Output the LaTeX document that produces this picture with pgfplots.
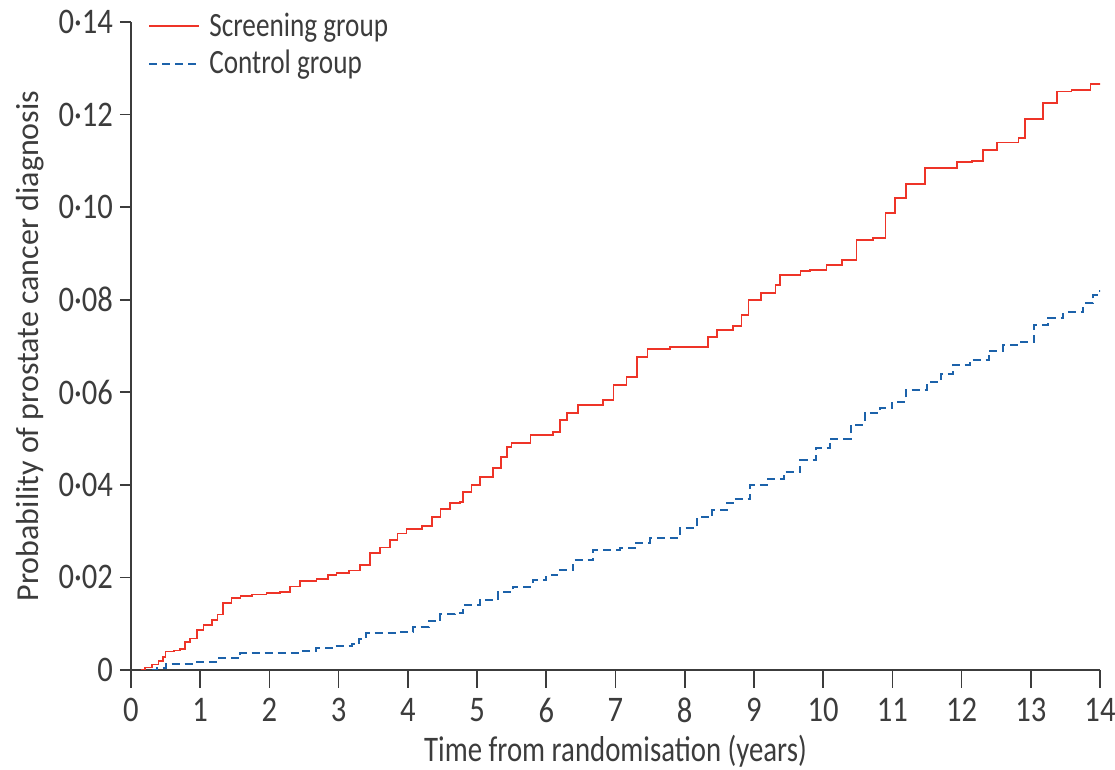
\documentclass[border=0pt]{standalone}
\usepackage{fontspec}
\setmainfont{Carlito}
\newfontfamily\narrowfont{Carlito}[FakeStretch=0.8]
\newfontfamily\tickfont{Carlito}[FakeStretch=0.85]
\usepackage{pgfplots}
\pgfplotsset{compat=1.18}
\definecolor{scrred}{RGB}{238,52,40}
\definecolor{ctlblue}{RGB}{28,98,170}
\definecolor{axgray}{RGB}{60,60,60}
\begin{document}
\begin{tikzpicture}[font=\fontsize{16}{19}\selectfont]
\useasboundingbox (-65.5pt,-50pt) rectangle (492pt,335pt);
\begin{axis}[
  scale only axis,
  width=484.5pt, height=324pt,
  at={(0,0)}, anchor=south west,
  xmin=0, xmax=14, ymin=0, ymax=0.14,
  axis lines=left,
  axis line style={-, axgray, line width=0.8pt},
  tick style={axgray, line width=0.8pt},
  tick align=outside,
  major tick length=5.5pt,
  xtick style={/pgfplots/major tick length=9pt},
  xtick={0,1,...,14},
  ytick={0,0.02,0.04,0.06,0.08,0.10,0.12,0.14},
  yticklabels={0,0·02,0·04,0·06,0·08,0·10,0·12,0·14},
  /pgf/number format/assume math mode=true,
  tick label style={text=axgray, font=\tickfont\fontsize{18}{20}\selectfont},
  xticklabel style={yshift=-5pt},
  xlabel={Time from randomisation (years)},
  ylabel={Probability of prostate cancer diagnosis},
  xlabel style={text=axgray, font=\narrowfont\fontsize{18}{20}\selectfont, at={(axis description cs:0.5,-0.126)}, anchor=center},
  ylabel style={text=axgray, font=\fontsize{16}{19}\selectfont, at={(axis description cs:-0.1042,0.5)}, anchor=center, rotate=0},
  legend style={draw=none, fill=none, at={(axis description cs:0.0113,1.027)}, anchor=north west,
    font=\narrowfont\fontsize{17}{20}\selectfont, text=axgray, row sep=1.5pt},
  legend cell align=left,
  legend image code/.code={\draw[#1] (0pt,0pt) -- (25pt,0pt); \path (27.5pt,0pt);},
]
\addplot[const plot, scrred, line width=0.8pt] coordinates {
(0.15,0) (0.2,0.0005) (0.3,0.0012) (0.4,0.002) (0.46,0.0028) (0.5,0.004) (0.62,0.0042) (0.71,0.0045)
(0.78,0.006) (0.85,0.0068) (0.95,0.0086) (1.05,0.0097) (1.17,0.0108) (1.25,0.012) (1.33,0.0145)
(1.45,0.0155) (1.58,0.016) (1.75,0.0163) (1.96,0.0166) (2.15,0.0169) (2.3,0.018) (2.44,0.0192)
(2.68,0.0197) (2.85,0.0205) (2.97,0.021) (3.15,0.0215) (3.31,0.0227) (3.45,0.0253) (3.6,0.0265)
(3.74,0.0281) (3.85,0.0295) (3.98,0.0305) (4.2,0.0311) (4.35,0.033) (4.47,0.0348) (4.61,0.0361)
(4.75,0.0363) (4.8,0.0384) (4.92,0.040) (5.04,0.0417) (5.23,0.0436) (5.35,0.046) (5.43,0.0482)
(5.5,0.049) (5.77,0.0508) (6.1,0.0514) (6.2,0.054) (6.3,0.0555) (6.46,0.0572) (6.68,0.0572)
(6.82,0.0583) (6.97,0.0616) (7.16,0.0633) (7.31,0.0676) (7.46,0.0693) (7.79,0.0698) (8.19,0.0698)
(8.34,0.072) (8.47,0.0734) (8.7,0.0743) (8.82,0.0767) (8.92,0.0799) (9.1,0.0815) (9.31,0.0832)
(9.38,0.0853) (9.67,0.0862) (9.81,0.0864) (10.05,0.0875) (10.27,0.0886) (10.48,0.0929) (10.72,0.0933)
(10.9,0.0987) (11.04,0.102) (11.2,0.105) (11.47,0.1084) (11.93,0.1097) (12.15,0.110) (12.31,0.1123)
(12.51,0.114) (12.82,0.1149) (12.92,0.119) (13.18,0.1225) (13.38,0.125) (13.59,0.1253) (13.86,0.1266)
(14,0.1268)
};
\addlegendentry{Screening group}
\addplot[const plot, ctlblue, line width=1pt, dash pattern=on 4pt off 2.5pt] coordinates {
(0.3,0) (0.37,0.0004) (0.51,0.0013) (0.95,0.0017) (1.25,0.0025) (1.58,0.0037) (2.44,0.0041)
(2.68,0.0047) (2.9,0.0052) (3.19,0.0056) (3.3,0.0068) (3.4,0.008) (3.84,0.0082) (4.08,0.0093)
(4.3,0.0105) (4.47,0.012) (4.68,0.0123) (4.8,0.014) (5.04,0.0151) (5.3,0.0168) (5.52,0.018)
(5.81,0.0194) (6.0,0.0205) (6.16,0.0216) (6.39,0.0238) (6.68,0.026) (7.07,0.0263) (7.3,0.0275)
(7.5,0.0285) (7.93,0.0307) (8.18,0.033) (8.4,0.0345) (8.61,0.036) (8.7,0.037) (8.95,0.040)
(9.2,0.0412) (9.43,0.0428) (9.67,0.0454) (9.9,0.048) (10.1,0.050) (10.4,0.053) (10.6,0.0555)
(10.82,0.0566) (11.0,0.058) (11.2,0.0605) (11.5,0.0622) (11.7,0.064) (11.88,0.0659) (12.12,0.067)
(12.4,0.069) (12.6,0.0702) (12.8,0.0708) (13.04,0.0745) (13.25,0.076) (13.47,0.0773) (13.76,0.0792)
(13.9,0.081) (14,0.082)
};
\addlegendentry{Control group}
\end{axis}
\end{tikzpicture}
\end{document}
